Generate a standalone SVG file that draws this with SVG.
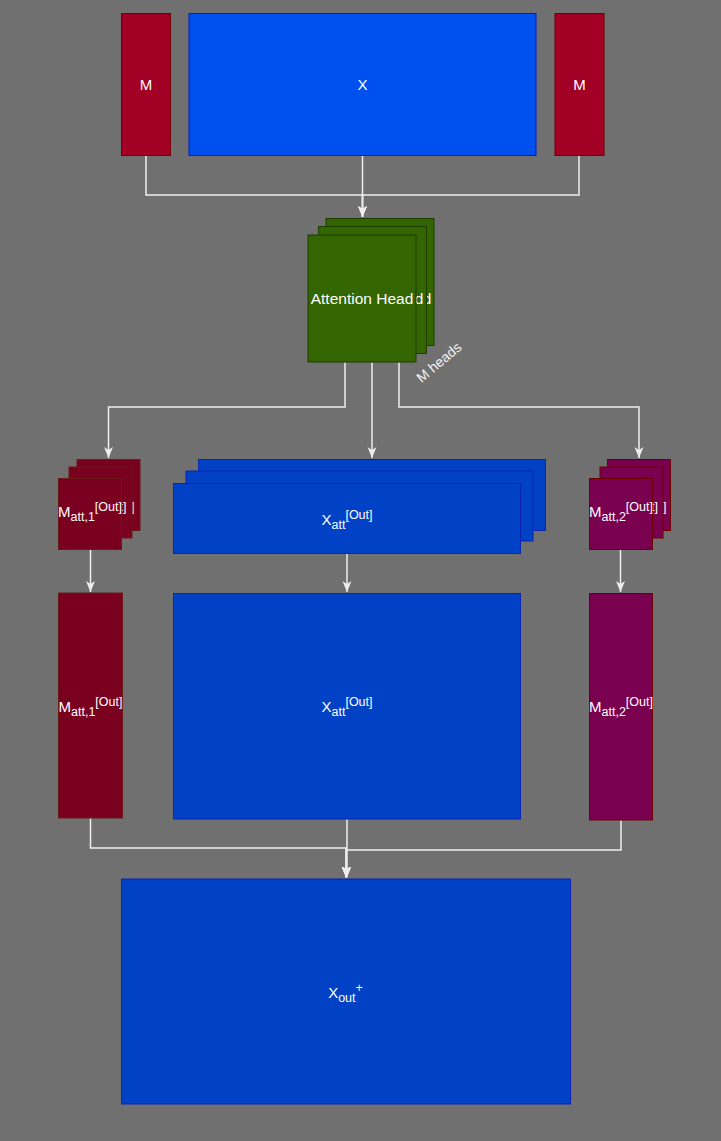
<svg xmlns="http://www.w3.org/2000/svg" width="721" height="1141" viewBox="0 0 721 1141">
<defs>
<style>
.t{font-family:"Liberation Sans",Arial,sans-serif;font-size:15px;fill:#ffffff;text-anchor:middle}
.h{font-size:15.5px}
.s{font-size:12.5px}
.m{fill:#a20025;stroke:#6f0000;stroke-width:1}
.x{fill:#0050ef;stroke:#001dbc;stroke-width:1}
.g{fill:#336600;stroke:#1e3b00;stroke-width:1}
.r1{fill:#7a0020;stroke:#6b1a1a;stroke-width:1}
.r2{fill:#7a0050;stroke:#6f0000;stroke-width:1}
.b{fill:#0041c6;stroke:#0a25b0;stroke-width:1}
.c{fill:none;stroke:#eeeeee;stroke-width:1.5}
.a{marker-end:url(#arr)}
</style>
<marker id="arr" markerUnits="userSpaceOnUse" markerWidth="12" markerHeight="10" refX="11" refY="4.5" orient="auto">
<path d="M0,0 L11,4.5 L0,9 L3,4.5 Z" fill="#eeeeee"/>
</marker>
<clipPath id="cg1"><rect x="326" y="218.5" width="108" height="127"/></clipPath>
<clipPath id="cg2"><rect x="318.5" y="226.5" width="108" height="127"/></clipPath>
<clipPath id="ca1"><rect x="77" y="459.5" width="63" height="71"/></clipPath>
<clipPath id="ca2"><rect x="69" y="467" width="63" height="71"/></clipPath>
<clipPath id="cb1"><rect x="607.5" y="459.5" width="63" height="71"/></clipPath>
<clipPath id="cb2"><rect x="600" y="467" width="63" height="71"/></clipPath>
</defs>
<rect x="0" y="0" width="721" height="1141" fill="#707070"/>

<g id="connectors">
<path class="c a" d="M146,155.5 V195 H362.5 V217"/>
<path class="c a" d="M579,155.5 V195 H362.5 V217"/>
<path class="c a" d="M362.5,155.5 V217"/>
<path class="c a" d="M345,362.5 V407 H108.5 V458"/>
<path class="c a" d="M372,362.5 V458"/>
<path class="c a" d="M399,362.5 V407 H639 V458"/>
<path class="c a" d="M90.5,549 V592"/>
<path class="c a" d="M347,554 V592"/>
<path class="c a" d="M620.5,549 V592"/>
<path class="c a" d="M90.5,818.5 V848 H346 V877.5"/>
<path class="c a" d="M347,819 V877.5"/>
<path class="c a" d="M621,820.5 V850 H346 V877.5"/>
</g>

<g id="m-left">
<rect class="m" x="121.5" y="13.5" width="49" height="142"/>
<text class="t" x="146" y="89.5">M</text>
</g>
<g id="x-input">
<rect class="x" x="189" y="13.5" width="347" height="142"/>
<text class="t" x="362.5" y="89.5">X</text>
</g>
<g id="m-right">
<rect class="m" x="555" y="13.5" width="49" height="142"/>
<text class="t" x="579.5" y="89.5">M</text>
</g>

<g id="attention-head">
<rect class="g" x="326" y="218.5" width="108" height="127"/>
<text class="t h" x="380" y="303.5" clip-path="url(#cg1)">Attention Head</text>
<rect class="g" x="318.5" y="226.5" width="108" height="127"/>
<text class="t h" x="372" y="303.5" clip-path="url(#cg2)">Attention Head</text>
<rect class="g" x="308" y="235" width="108" height="127"/>
<text class="t h" x="362" y="303.5">Attention Head</text>
</g>
<g id="m-heads-label">
<text class="t" style="font-size:14px;fill:#f2f2f2" x="442" y="366" transform="rotate(-40 442 366)">M heads</text>
</g>

<g id="matt1-stack">
<rect class="r1" x="77" y="459.5" width="63" height="71"/>
<text class="t" x="102.5" y="517" clip-path="url(#ca1)">M<tspan class="s" dy="4">att,1</tspan><tspan class="s" dy="-10">[Out]</tspan></text>
<rect class="r1" x="69" y="467" width="63" height="71"/>
<text class="t" x="94.5" y="517" clip-path="url(#ca2)">M<tspan class="s" dy="4">att,1</tspan><tspan class="s" dy="-10">[Out]</tspan></text>
<rect class="r1" x="58.5" y="478.5" width="63" height="71"/>
<text class="t" x="90" y="517">M<tspan class="s" dy="4">att,1</tspan><tspan class="s" dy="-10">[Out]</tspan></text>
</g>

<g id="xatt-stack">
<rect class="b" x="198.5" y="459.5" width="347" height="71"/>
<rect class="b" x="186" y="471" width="347" height="70"/>
<rect class="b" x="173.5" y="483.5" width="347" height="70"/>
<text class="t" x="347" y="525">X<tspan class="s" dy="4">att</tspan><tspan class="s" dy="-10">[Out]</tspan></text>
</g>

<g id="matt2-stack">
<rect class="r2" x="607.5" y="459.5" width="63" height="71"/>
<text class="t" x="634.5" y="517" clip-path="url(#cb1)">M<tspan class="s" dy="4">att,2</tspan><tspan class="s" dy="-10">[Out]</tspan></text>
<rect class="r2" x="600" y="467" width="63" height="71"/>
<text class="t" x="626" y="517" clip-path="url(#cb2)">M<tspan class="s" dy="4">att,2</tspan><tspan class="s" dy="-10">[Out]</tspan></text>
<rect class="r2" x="589.5" y="478.5" width="63" height="71"/>
<text class="t" x="621" y="517">M<tspan class="s" dy="4">att,2</tspan><tspan class="s" dy="-10">[Out]</tspan></text>
</g>

<g id="matt1">
<rect class="r1" x="58.5" y="593" width="64" height="225"/>
<text class="t" x="90.5" y="712">M<tspan class="s" dy="4">att,1</tspan><tspan class="s" dy="-10">[Out]</tspan></text>
</g>
<g id="xatt">
<rect class="b" x="173.5" y="593.5" width="347" height="225.5"/>
<text class="t" x="347" y="712">X<tspan class="s" dy="4">att</tspan><tspan class="s" dy="-10">[Out]</tspan></text>
</g>
<g id="matt2">
<rect class="r2" x="589.5" y="593.5" width="63" height="226.5"/>
<text class="t" x="621" y="712">M<tspan class="s" dy="4">att,2</tspan><tspan class="s" dy="-10">[Out]</tspan></text>
</g>

<g id="xout">
<rect class="b" x="121.5" y="879" width="449" height="225"/>
<text class="t" x="345.5" y="998">X<tspan class="s" dy="4">out</tspan><tspan class="s" dy="-10">+</tspan></text>
</g>
</svg>
